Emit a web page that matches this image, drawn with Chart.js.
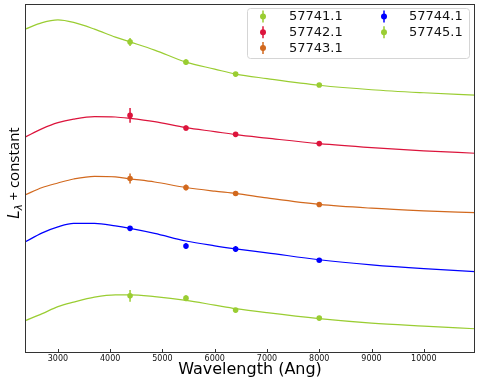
<!DOCTYPE html>
<html>
<head>
<meta charset="utf-8">
<script src="https://cdn.jsdelivr.net/npm/chart.js@4"></script>
<style>
  html, body { margin: 0; padding: 0; background: #fff; }
  #wrap { width: 480px; height: 382px; }
</style>
</head>
<body>
<div id="wrap"><canvas id="myChart" width="480" height="382"></canvas></div>
<script>
// epochs (MJD) and their colours
const epochs = ['57741.1', '57742.1', '57743.1', '57744.1', '57745.1'];
const colors = ['#9acd32', '#dc143c', '#d2691e', '#0000ff', '#9acd32'];

const curveWave = [2370, 2700, 3000, 3300, 3700, 4100, 4380, 4850, 5450, 6000, 6400, 7000, 8000, 9000, 10000, 10980];
// fitted curves (L_lambda + constant, arbitrary units)
const curve1 = [324.7, 331.3, 334, 331.5, 324.8, 316.8, 312, 303.8, 291.7, 284.7, 279.7, 275.2, 268.5, 264, 261, 258.7];
const curve2 = [216.5, 225, 231, 234.5, 237, 236.7, 235.3, 232, 226, 222, 219, 215.5, 210, 206, 202.8, 200.3];
const curve3 = [158.5, 166, 170.5, 174.5, 177.2, 176.7, 174.7, 171.5, 166, 162.3, 160, 155.5, 149, 145.2, 142.6, 140.7];
const curve4 = [111.3, 120.5, 126.5, 130, 130, 127.5, 125, 120, 112.3, 107.5, 104.5, 100.5, 93.5, 88.4, 84.6, 81.7];
const curve5 = [32.3, 39.5, 46.5, 51, 56, 58.3, 58.3, 56.5, 52.8, 48, 44.5, 40.4, 34.5, 30, 27, 24.3];

// photometry points
const bandWave = [4380, 5450, 6400, 8000];
const obs1 = [312, 291.7, 279.7, 268.7];
const obs2 = [238.3, 225.7, 219.3, 210];
const obs3 = [175, 166, 160, 149];
const obs4 = [125, 107.3, 104.3, 93];
const obs5 = [57.3, 55, 43, 35];
const err1 = [4, 3, 2, 1.5];
const err2 = [7.3, 2.5, 2, 1.5];
const err3 = [5, 3, 2.5, 1];
const err4 = [1, 3, 3, 1.5];
const err5 = [6, 3, 2, 1];

const xTicks = [3000, 4000, 5000, 6000, 7000, 8000, 9000, 10000];

const curves = [curve1, curve2, curve3, curve4, curve5];
const obs = [obs1, obs2, obs3, obs4, obs5];
const errs = [err1, err2, err3, err4, err5];

let datasets = [];
curves.forEach((c, i) => {
  datasets.push({
    type: 'line',
    label: 'fit ' + epochs[i],
    data: c.map((v, j) => ({ x: curveWave[j], y: v })),
    borderColor: colors[i],
    borderWidth: 1.2,
    pointRadius: 0,
    cubicInterpolationMode: 'monotone',
    fill: false,
    isFit: true
  });
});
obs.forEach((o, i) => {
  datasets.push({
    type: 'scatter',
    label: epochs[i],
    data: o.map((v, j) => ({ x: bandWave[j], y: v, e: errs[i][j] })),
    backgroundColor: colors[i],
    borderColor: colors[i],
    pointRadius: 2.8,
    pointBorderWidth: 0,
    showLine: false
  });
});

// error bars, frame, inward ticks, y title and legend
const extras = {
  id: 'extras',
  beforeDatasetDraw(chart, args) {
    const ds = chart.data.datasets[args.index];
    if (ds.isFit) return;
    const ctx = chart.ctx, xs = chart.scales.x, ys = chart.scales.y;
    ctx.save();
    ctx.strokeStyle = ds.borderColor;
    ctx.lineWidth = 1.5;
    ds.data.forEach(p => {
      const px = xs.getPixelForValue(p.x);
      ctx.beginPath();
      ctx.moveTo(px, ys.getPixelForValue(p.y - p.e));
      ctx.lineTo(px, ys.getPixelForValue(p.y + p.e));
      ctx.stroke();
      ctx.beginPath();
      ctx.moveTo(px - 1.5, ys.getPixelForValue(p.y));
      ctx.lineTo(px + 1.5, ys.getPixelForValue(p.y));
      ctx.stroke();
    });
    ctx.restore();
  },
  afterDraw(chart) {
    const ctx = chart.ctx, a = chart.chartArea, xs = chart.scales.x;
    ctx.save();
    // frame
    ctx.strokeStyle = '#333';
    ctx.lineWidth = 1;
    ctx.strokeRect(a.left + 0.5, a.top + 0.5, a.right - a.left - 1, a.bottom - a.top - 1);
    // inward ticks
    xTicks.forEach(t => {
      const px = Math.round(xs.getPixelForValue(t)) + 0.5;
      ctx.beginPath();
      ctx.moveTo(px, a.bottom);
      ctx.lineTo(px, a.bottom - 4);
      ctx.stroke();
    });

    // y axis title: L_lambda + constant
    ctx.fillStyle = '#000';
    ctx.translate(19, 173);
    ctx.rotate(-Math.PI / 2);
    ctx.textBaseline = 'alphabetic';
    const fMain = 'italic 15px "DejaVu Sans"';
    const fSub = 'italic 10px "DejaVu Sans"';
    const fRest = '15px "Open Sans"';
    ctx.font = fMain; const wL = ctx.measureText('L').width;
    ctx.font = fSub; const wS = ctx.measureText('λ').width;
    ctx.font = fRest; const wR = ctx.measureText(' + constant').width;
    let x0 = -(wL + wS + wR) / 2;
    ctx.font = fMain; ctx.fillText('L', x0, 0);
    ctx.font = fSub; ctx.fillText('λ', x0 + wL, 3);
    ctx.font = fRest; ctx.fillText(' + constant', x0 + wL + wS, 0);
    ctx.restore();

    // legend, two columns
    ctx.save();
    const bx = 247, by = 8, bw = 222, bh = 50;
    ctx.fillStyle = 'rgba(255,255,255,0.85)';
    ctx.strokeStyle = '#d5d5d5';
    ctx.lineWidth = 1;
    ctx.beginPath();
    ctx.roundRect(bx + 0.5, by + 0.5, bw, bh, 3);
    ctx.fill();
    ctx.stroke();
    ctx.font = '13px "DejaVu Sans"';
    ctx.textBaseline = 'middle';
    const pts = chart.data.datasets.filter(d => !d.isFit);
    pts.forEach((d, i) => {
      const col = i < 3 ? 0 : 1;
      const row = i < 3 ? i : i - 3;
      const mx = col === 0 ? 263 : 384;
      const tx = col === 0 ? 289 : 409;
      const my = 16.5 + row * 15.7;
      ctx.strokeStyle = d.borderColor;
      ctx.fillStyle = d.borderColor;
      ctx.lineWidth = 1.5;
      ctx.beginPath();
      ctx.moveTo(mx, my - 6);
      ctx.lineTo(mx, my + 6);
      ctx.stroke();
      ctx.beginPath();
      ctx.arc(mx, my, 3, 0, Math.PI * 2);
      ctx.fill();
      ctx.fillStyle = '#111';
      ctx.fillText(d.label, tx, my + 0.5);
    });
    ctx.restore();
  }
};

const ctx = document.getElementById('myChart').getContext('2d');
const chart = new Chart(ctx, {
  data: { datasets: datasets },
  options: {
    responsive: false,
    animation: false,
    events: [],
    layout: { padding: { left: 25, right: 5, top: 3, bottom: 0 } },
    plugins: { legend: { display: false }, tooltip: { enabled: false } },
    scales: {
      x: {
        type: 'linear',
        min: 2370,
        max: 10980,
        grid: { display: false, drawTicks: false },
        border: { display: false },
        afterBuildTicks: s => { s.ticks = xTicks.map(v => ({ value: v })); },
        afterFit: s => { s.height = 29; },
        ticks: {
          padding: 1,
          font: { family: 'DejaVu Sans', size: 8 },
          color: '#111',
          callback: v => String(v)
        },
        title: {
          display: true,
          text: 'Wavelength (Ang)',
          font: { family: 'DejaVu Sans', size: 16 },
          color: '#000',
          padding: { top: 0, bottom: 2.4 }
        }
      },
      y: {
        type: 'linear',
        min: 0,
        max: 350,
        display: false
      }
    }
  },
  plugins: [extras]
});
</script>
</body>
</html>
